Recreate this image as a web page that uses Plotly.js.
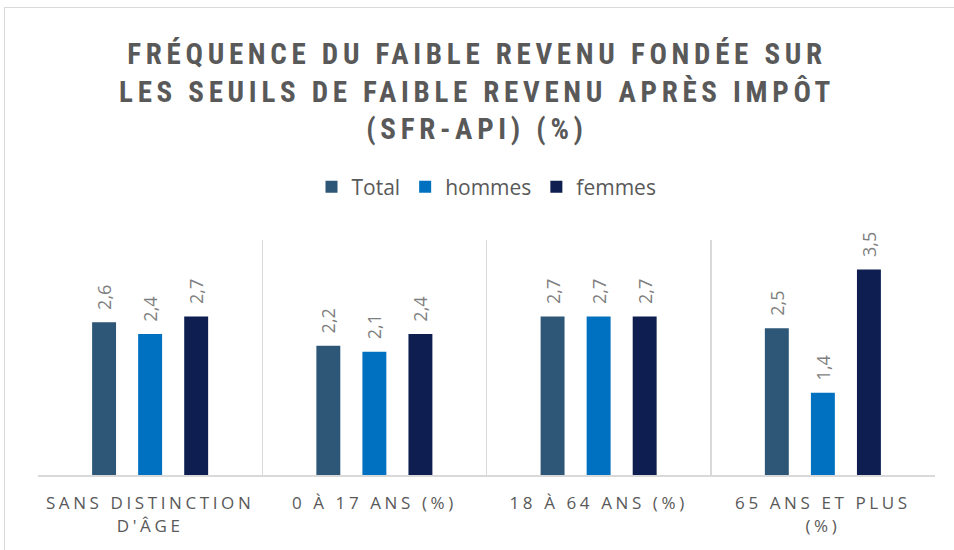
<!DOCTYPE html>
<html><head><meta charset="utf-8">
<script src="https://cdn.plot.ly/plotly-3.0.1.min.js"></script>
<style>
body{margin:0;padding:0;background:#fff;}
#frame{position:absolute;left:4px;top:7px;width:960px;height:560px;border:1px solid #d9d9d9;pointer-events:none;}
#chart .gtitle{letter-spacing:4.7px;}
#chart .xtick text{letter-spacing:3.6px;}
</style></head>
<body>
<div id="chart" style="width:954px;height:550px;"></div>
<div id="frame"></div>
<script>
const categories = ["SANS DISTINCTION<br>D'ÂGE", "0 À 17 ANS (%)", "18 À 64 ANS (%)", "65 ANS ET PLUS<br>(%)"];
const totalVals = [2.6, 2.2, 2.7, 2.5];
const hommesVals = [2.4, 2.1, 2.7, 1.4];
const femmesVals = [2.7, 2.4, 2.7, 3.5];
const seriesNames = ["Total", "hommes", "femmes"];
const colors = ["#2E5777", "#0070C0", "#0E1E50"];

const fmt = v => '\u00a0\u00a0' + v.toFixed(1).replace('.', ',');
const vals = [totalVals, hommesVals, femmesVals];
const traces = vals.map((v, i) => ({
  type: 'bar', name: seriesNames[i], x: categories, y: v,
  marker: {color: colors[i]},
  text: v.map(fmt), textposition: 'outside', textangle: -90, constraintext: 'none',
  textfont: {family: 'Open Sans, sans-serif', size: 18, color: '#7f7f7f'},
  cliponaxis: false, hoverinfo: 'none'
}));

const layout = {
  width: 954, height: 550,
  margin: {l: 38, r: 19, t: 240, b: 75},
  paper_bgcolor: '#fff', plot_bgcolor: '#fff',
  title: {
    text: 'FRÉQUENCE DU FAIBLE REVENU FONDÉE SUR<br>LES SEUILS DE FAIBLE REVENU APRÈS IMPÔT<br>(SFR-API) (%)',
    font: {family: 'Liberation Sans Narrow, Roboto Condensed, Open Sans, sans-serif', size: 29, color: '#595959', weight: 700},
    x: 0.5, xanchor: 'center', y: 0.884, yanchor: 'top'
  },
  barmode: 'group', bargap: 0.384, bargroupgap: 0.48,
  showlegend: true,
  legend: {orientation: 'h', x: 0.5, xanchor: 'center', y: 1.225, yanchor: 'middle',
    font: {family: 'Open Sans, sans-serif', size: 21, color: '#595959'}, itemwidth: 30, traceorder: 'normal'},
  xaxis: {type: 'category', tickson: 'boundaries', showgrid: true, gridcolor: '#d9d9d9', gridwidth: 1.5,
    showline: true, linecolor: '#d9d9d9', linewidth: 2, ticks: '', range: [-0.5, 3.5], ticklabelstandoff: 12,
    tickfont: {family: 'Open Sans, sans-serif', size: 17, color: '#595959'}, fixedrange: true},
  yaxis: {range: [0, 4], showgrid: false, zeroline: false, showticklabels: false, showline: false, fixedrange: true},
  separators: ', '
};
Plotly.newPlot('chart', traces, layout, {displayModeBar: false, staticPlot: true});
</script>
</body></html>
